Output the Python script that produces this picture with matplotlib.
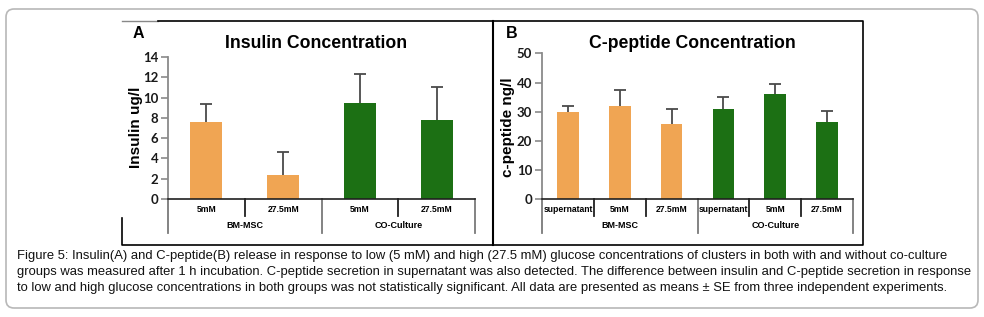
import numpy as np
import matplotlib
matplotlib.use("Agg")
import matplotlib.pyplot as plt
from matplotlib.patches import FancyBboxPatch
from matplotlib.transforms import blended_transform_factory

# ---- data ----
ins_groups = ["BM-MSC", "CO-Culture"]
ins_labels = ["5mM", "27.5mM", "5mM", "27.5mM"]
ins_mean = [7.6, 2.4, 9.45, 7.8]
ins_err = [1.8, 2.2, 2.85, 3.2]

cp_groups = ["BM-MSC", "CO-Culture"]
cp_labels = ["supernatant", "5mM", "27.5mM", "supernatant", "5mM", "27.5mM"]
cp_mean = [29.8, 32.0, 25.8, 30.8, 36.0, 26.5]
cp_err = [2.3, 5.4, 5.0, 4.3, 3.6, 3.7]

ORANGE = "#F0A553"
GREEN = "#1C7014"
W, H = 984, 317

caption_lines = [
    "Figure 5: Insulin(A) and C-peptide(B) release in response to low (5 mM) and high (27.5 mM) glucose concentrations of clusters in both with and without co-culture",
    "groups was measured after 1 h incubation. C-peptide secretion in supernatant was also detected. The difference between insulin and C-peptide secretion in response",
    "to low and high glucose concentrations in both groups was not statistically significant. All data are presented as means \u00b1 SE from three independent experiments.",
]

fig = plt.figure(figsize=(W / 100, H / 100), dpi=100)

# background axes in pixel coords for frames and caption
bg = fig.add_axes([0, 0, 1, 1])
bg.set_xlim(0, W)
bg.set_ylim(H, 0)
bg.axis("off")
bg.add_patch(FancyBboxPatch((6, 9), 972, 299, boxstyle="round,pad=0,rounding_size=8",
                            fc="white", ec="#b8b8b8", lw=1.2))
bg.plot([122, 158], [21, 21], color="#888888", lw=1)
bg.plot([158, 863, 863, 122, 122], [21, 21, 245, 245, 218], color="black", lw=1.2)
bg.plot([493, 493], [21, 245], color="black", lw=1.5)


def px_axes(x0, x1, y_top, y_bot):
    return fig.add_axes([x0 / W, 1 - y_bot / H, (x1 - x0) / W, (y_bot - y_top) / H])


def bar_panel(ax, means, errs, labels, groups, ymax, step, ylabel, title, letter,
              ylab_x, title_x, letter_x, axh):
    n = len(means)
    x = np.arange(n)
    colors = [ORANGE] * (n // 2) + [GREEN] * (n // 2)
    ax.bar(x, means, width=0.42, color=colors, zorder=2)
    # symmetric bars drawn behind the columns so only the upper half shows
    ax.errorbar(x, means, yerr=errs, fmt="none", ecolor="#4a4a4a",
                elinewidth=1.3, capsize=4, capthick=1.3, zorder=1)
    ax.set_xlim(-0.5, n - 0.5)
    ax.set_ylim(0, ymax)
    ax.set_yticks(np.arange(0, ymax + 1, step))
    ax.set_xticks([])
    for s in ["top", "right"]:
        ax.spines[s].set_visible(False)
    ax.spines["left"].set_color("#8a8a8a")
    ax.spines["left"].set_linewidth(1.3)
    ax.spines["bottom"].set_color("#202020")
    ax.spines["bottom"].set_linewidth(1.2)
    ax.tick_params(axis="y", colors="#8a8a8a", length=5, width=1.2, pad=2,
                   labelcolor="#1a1a1a", labelsize=9.5)
    for t in ax.get_yticklabels():
        t.set_fontweight("bold")
        t.set_family("Lato")
    tr = blended_transform_factory(ax.transData, ax.transAxes)
    short = -17 / axh
    long_ = -34 / axh
    half = n // 2
    for i in range(n + 1):
        xe = i - 0.5
        yb = long_ if i % half == 0 else short
        col = "#7a7a7a" if i % half == 0 else "#202020"
        ax.plot([xe, xe], [0, yb], transform=tr, color=col, lw=1.3, clip_on=False)
    for i, lab in enumerate(labels):
        ax.text(i, -10 / axh, lab, transform=tr, ha="center", va="center",
                fontsize=6.2, fontweight="bold", family="Liberation Sans")
    for g, name in enumerate(groups):
        ax.text(g * half + (half - 1) / 2, -26 / axh, name, transform=tr, ha="center",
                va="center", fontsize=6.5, fontweight="bold", family="Liberation Sans")
    bg.text(ylab_x, 127, ylabel, rotation=90, ha="center", va="center",
            fontsize=11, fontweight="bold", family="Liberation Sans")
    bg.text(title_x, 44, title, ha="center", va="center", fontsize=12.7,
            fontweight="bold", family="Liberation Sans")
    bg.text(letter_x, 33, letter, ha="center", va="center", fontsize=11.5,
            fontweight="bold", family="Liberation Sans")


axA = px_axes(168, 475, 57, 199)
bar_panel(axA, ins_mean, ins_err, ins_labels, ins_groups, 14, 2, "Insulin ug/l",
          "Insulin Concentration", "A", 136, 316, 138, 142)

axB = px_axes(542, 853, 53.3, 199.3)
bar_panel(axB, cp_mean, cp_err, cp_labels, cp_groups, 50, 10, "c-peptide ng/l",
          "C-peptide Concentration", "B", 508, 692, 512, 146)

# caption, sized so the longest line spans the frame like the reference
cap = bg.text(17, 272, "\n".join(caption_lines), ha="left", va="center",
              fontsize=9.6, linespacing=1.45, family="Liberation Sans", color="#111111")
fig.canvas.draw()
wpx = cap.get_window_extent().width
cap.set_fontsize(9.6 * 955 / wpx)

fig.savefig("out.png", dpi=100)
